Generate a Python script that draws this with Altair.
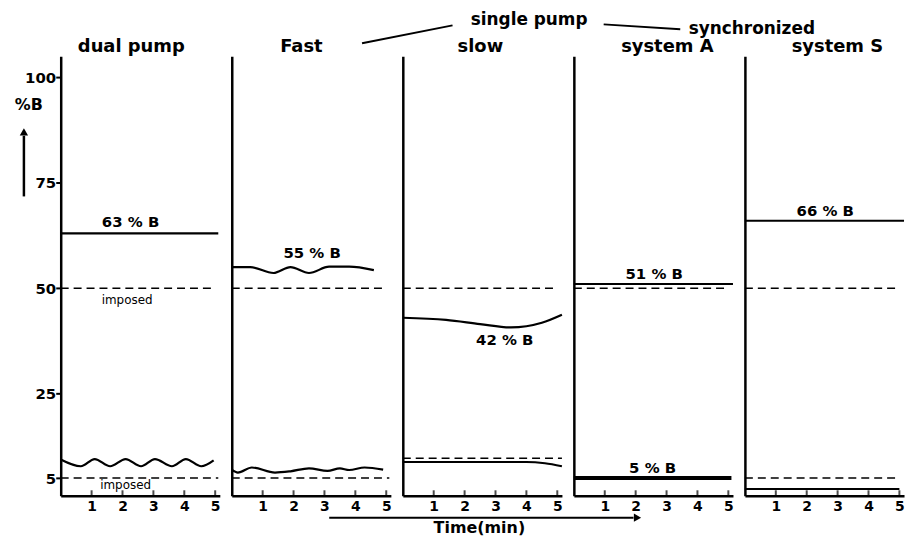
import altair as alt
import pandas as pd

# ---------------- data ----------------
panel_names = ["dual pump", "Fast", "slow", "system A", "system S"]
x_ticks = [1, 2, 3, 4, 5]
y_ticks = [5, 25, 50, 75, 100]

# dual pump
dp_hi_t = [0, 5.1]
dp_hi_v = [63, 63]
dp_imp_hi_t = [0, 5.0]
dp_imp_hi_v = [50, 50]
dp_lo_t = [0, 0.65, 1.1, 1.6, 2.1, 2.6, 3.05, 3.6, 4.05, 4.55, 4.95]
dp_lo_v = [9.4, 7.8, 9.5, 7.8, 9.5, 7.8, 9.5, 7.8, 9.5, 7.8, 9.2]
dp_imp_lo_t = [0, 5.1]
dp_imp_lo_v = [5, 5]

# single pump, fast
f_hi_t = [0, 0.6, 1.35, 1.9, 2.5, 3.15, 3.8, 4.6]
f_hi_v = [55.0, 55.0, 53.6, 55.0, 53.6, 55.1, 55.1, 54.3]
f_imp_hi_t = [0, 5.0]
f_imp_hi_v = [50, 50]
f_lo_t = [0, 0.2, 0.65, 1.4, 1.9, 2.5, 3.1, 3.5, 3.8, 4.3, 4.9]
f_lo_v = [7.0, 6.3, 7.5, 6.3, 6.6, 7.3, 6.7, 7.3, 6.9, 7.5, 7.0]
f_imp_lo_t = [0, 5.1]
f_imp_lo_v = [5, 5]

# single pump, slow
s_hi_t = [0, 1.4, 2.5, 3.5, 4.5, 5.15]
s_hi_v = [43.0, 42.5, 41.5, 40.7, 41.8, 43.7]
s_imp_hi_t = [0, 5.0]
s_imp_hi_v = [50, 50]
s_lo_t = [0, 4.0, 4.6, 5.15]
s_lo_v = [8.8, 8.8, 8.5, 7.8]
s_imp_lo_t = [0, 5.15]
s_imp_lo_v = [9.7, 9.7]

# synchronized system A
a_hi_t = [0, 5.15]
a_hi_v = [51, 51]
a_imp_hi_t = [0, 5.0]
a_imp_hi_v = [50, 50]
a_lo_t = [0, 5.1]
a_lo_v = [5, 5]

# synchronized system S
ss_hi_t = [0, 5.15]
ss_hi_v = [66, 66]
ss_imp_hi_t = [0, 5.0]
ss_imp_hi_v = [50, 50]
ss_imp_lo_t = [0, 4.9]
ss_imp_lo_v = [5, 5]
ss_lo_t = [0, 5.0]
ss_lo_v = [2.4, 2.4]

series = [
    ("dual pump", "dp_hi", "measured", dp_hi_t, dp_hi_v),
    ("dual pump", "dp_imp_hi", "imposed", dp_imp_hi_t, dp_imp_hi_v),
    ("dual pump", "dp_lo", "measured", dp_lo_t, dp_lo_v),
    ("dual pump", "dp_imp_lo", "imposed", dp_imp_lo_t, dp_imp_lo_v),
    ("Fast", "f_hi", "measured", f_hi_t, f_hi_v),
    ("Fast", "f_imp_hi", "imposed", f_imp_hi_t, f_imp_hi_v),
    ("Fast", "f_lo", "measured", f_lo_t, f_lo_v),
    ("Fast", "f_imp_lo", "imposed", f_imp_lo_t, f_imp_lo_v),
    ("slow", "s_hi", "measured", s_hi_t, s_hi_v),
    ("slow", "s_imp_hi", "imposed", s_imp_hi_t, s_imp_hi_v),
    ("slow", "s_lo", "measured", s_lo_t, s_lo_v),
    ("slow", "s_imp_lo", "imposed", s_imp_lo_t, s_imp_lo_v),
    ("system A", "a_hi", "measured", a_hi_t, a_hi_v),
    ("system A", "a_imp_hi", "imposed", a_imp_hi_t, a_imp_hi_v),
    ("system A", "a_lo", "measured", a_lo_t, a_lo_v),
    ("system S", "ss_hi", "measured", ss_hi_t, ss_hi_v),
    ("system S", "ss_imp_hi", "imposed", ss_imp_hi_t, ss_imp_hi_v),
    ("system S", "ss_imp_lo", "imposed", ss_imp_lo_t, ss_imp_lo_v),
    ("system S", "ss_lo", "measured", ss_lo_t, ss_lo_v),
]

label_panel = ["dual pump", "dual pump", "dual pump", "Fast", "slow",
               "system A", "system A", "system S"]
label_text = ["63 % B", "imposed", "imposed", "55 % B", "42 % B",
              "51 % B", "5 % B", "66 % B"]
label_t = [2.26, 2.15, 2.1, 2.6, 3.3, 2.6, 2.55, 2.6]
label_v = [65.6, 47.2, 3.4, 58.3, 37.8, 53.3, 7.3, 68.3]

# ---------------- tables ----------------
rows = []
for p, s, k, ts, vs in series:
    for t, v in zip(ts, vs):
        rows.append({"panel": p, "series": s, "kind": k, "t": t, "v": v})
lines_df = pd.DataFrame(rows)
labels_df = pd.DataFrame({"panel": label_panel, "label": label_text,
                          "t": label_t, "v": label_v})
ticks_df = pd.DataFrame({"t": x_ticks})
anno_df = pd.DataFrame({"a": [0]})

# ---------------- styling ----------------
W, H = 160, 442
FONT = "DejaVu Sans"
xscale = alt.Scale(domain=[0, 5.15], nice=False, zero=False)
yscale = alt.Scale(domain=[0.8, 105], nice=False, zero=False)

xaxis = alt.Axis(values=x_ticks, format="d", title=None, ticks=False, grid=False,
                 domainColor="black", domainWidth=2.5, labelFont=FONT,
                 labelFontWeight="bold", labelFontSize=14, labelColor="black",
                 labelPadding=4, labelFlush=False)
yaxis_first = alt.Axis(values=y_ticks, title=None, grid=False, domainColor="black",
                       domainWidth=2.5, tickColor="black", tickWidth=2, tickSize=5,
                       labelFont=FONT, labelFontWeight="bold", labelFontSize=15,
                       labelColor="black", labelPadding=0)
yaxis_other = alt.Axis(values=y_ticks, title=None, grid=False, labels=False,
                       ticks=False, domainColor="black", domainWidth=2.5)

title_x = [71, 70, 78, 94, 93]


def make_panel(i, name):
    yaxis = yaxis_first if i == 0 else yaxis_other
    X = alt.X("t:Q", scale=xscale, axis=xaxis)
    Y = alt.Y("v:Q", scale=yscale, axis=yaxis)
    base = alt.Chart(lines_df).transform_filter(alt.datum.panel == name)

    measured = base.transform_filter(
        (alt.datum.kind == "measured") & (alt.datum.series != "a_lo")
    ).mark_line(color="black", strokeWidth=2.2, interpolate="monotone").encode(
        x=X, y=Y, detail="series:N")
    thick = base.transform_filter(alt.datum.series == "a_lo").mark_line(
        color="black", strokeWidth=4).encode(x=X, y=Y, detail="series:N")
    imposed = base.transform_filter(alt.datum.kind == "imposed").mark_line(
        color="black", strokeWidth=1.5, strokeDash=[8, 5]).encode(
        x=X, y=Y, detail="series:N")

    lab = alt.Chart(labels_df).transform_filter(alt.datum.panel == name)
    big_labels = lab.transform_filter(alt.datum.label != "imposed").mark_text(
        font=FONT, fontWeight="bold", fontSize=15, color="black", baseline="middle"
    ).encode(x=X, y=Y, text="label:N")
    small_labels = lab.transform_filter(alt.datum.label == "imposed").mark_text(
        font=FONT, fontSize=12, color="black", baseline="middle"
    ).encode(x=X, y=Y, text="label:N")

    ticks = alt.Chart(ticks_df).mark_tick(
        orient="vertical", size=5, thickness=2, color="black"
    ).encode(x=X, y=alt.value(H - 3))

    a = alt.Chart(anno_df)
    title = a.mark_text(text=name, font=FONT, fontWeight="bold", fontSize=18,
                        color="black", baseline="middle").encode(
        x=alt.value(title_x[i]), y=alt.value(-9))

    layers = [imposed, measured, thick, big_labels, small_labels, ticks, title]

    if i == 0:
        layers += [
            a.mark_text(text="%B", font=FONT, fontWeight="bold", fontSize=16,
                        color="black", baseline="middle").encode(
                x=alt.value(-32), y=alt.value(49)),
            a.mark_rule(color="black", strokeWidth=2.5).encode(
                x=alt.value(-37), x2=alt.value(-37), y=alt.value(141), y2=alt.value(80)),
            a.mark_point(shape="triangle-up", filled=True, color="black", size=70,
                         opacity=1).encode(x=alt.value(-37), y=alt.value(76)),
        ]
    if i == 2:
        layers += [
            a.mark_text(text="single pump", font=FONT, fontWeight="bold",
                        fontSize=17, color="black", baseline="middle").encode(
                x=alt.value(127), y=alt.value(-36)),
            a.mark_text(text="synchronized", font=FONT, fontWeight="bold",
                        fontSize=17, color="black", baseline="middle").encode(
                x=alt.value(351), y=alt.value(-27)),
            a.mark_rule(color="black", strokeWidth=2).encode(
                x=alt.value(-41), y=alt.value(-13), x2=alt.value(50), y2=alt.value(-31)),
            a.mark_rule(color="black", strokeWidth=2).encode(
                x=alt.value(202), y=alt.value(-32), x2=alt.value(279), y2=alt.value(-27)),
            a.mark_rule(color="black", strokeWidth=2).encode(
                x=alt.value(-74), y=alt.value(H + 22), x2=alt.value(232),
                y2=alt.value(H + 22)),
            a.mark_point(shape="triangle-right", filled=True, color="black",
                         size=70, opacity=1).encode(
                x=alt.value(236), y=alt.value(H + 22)),
            a.mark_text(text="Time(min)", font=FONT, fontWeight="bold",
                        fontSize=16, color="black", baseline="middle").encode(
                x=alt.value(77), y=alt.value(H + 32)),
        ]

    return alt.layer(*layers).properties(width=W, height=H)


panels = [make_panel(i, n) for i, n in enumerate(panel_names)]

chart = alt.hconcat(*panels, spacing=12, bounds="flush").properties(
    padding={"left": 6, "top": 2, "right": 0, "bottom": 0},
    background="white",
).configure_view(stroke=None)

chart.save("out.html", embed_options={"renderer": "svg", "actions": False})
